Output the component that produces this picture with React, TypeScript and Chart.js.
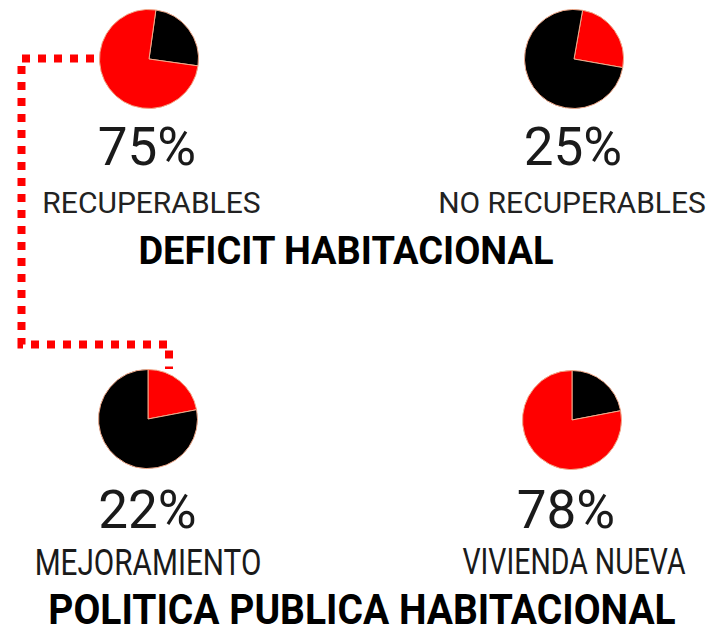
import React, { useEffect, useRef } from "react";
import { Chart, registerables } from "chart.js";

Chart.register(...registerables);

// ---- data ----
const topLabels = ["RECUPERABLES", "NO RECUPERABLES"];
const topValues = [75, 25];
const bottomLabels = ["MEJORAMIENTO", "VIVIENDA NUEVA"];
const bottomValues = [22, 78];
const sectionTitles = ["DEFICIT HABITACIONAL", "POLITICA PUBLICA HABITACIONAL"];

const RED = "#ff0000";
const BLACK = "#000000";
const EDGE = "#f0a98a";

type PieSpec = {
  value: number;
  highlightFirst: boolean;
  rotation: number;
  cx: number;
  cy: number;
};

const pies: PieSpec[] = [
  { value: topValues[0], highlightFirst: false, rotation: 8, cx: 148.5, cy: 58.5 },
  { value: topValues[1], highlightFirst: true, rotation: 10, cx: 573.5, cy: 59 },
  { value: bottomValues[0], highlightFirst: true, rotation: 0, cx: 147.5, cy: 418.5 },
  { value: bottomValues[1], highlightFirst: false, rotation: 0, cx: 571.5, cy: 420 },
];

const SIZE = 100;

function Pie({ spec }: { spec: PieSpec }) {
  const ref = useRef<HTMLCanvasElement | null>(null);
  useEffect(() => {
    if (!ref.current) return;
    const rest = 100 - spec.value;
    const data = spec.highlightFirst ? [spec.value, rest] : [rest, spec.value];
    const colors = spec.highlightFirst ? [RED, BLACK] : [BLACK, RED];
    const chart = new Chart(ref.current, {
      type: "pie",
      data: {
        labels: ["a", "b"],
        datasets: [
          {
            data,
            backgroundColor: colors,
            borderColor: EDGE,
            borderWidth: 1,
          },
        ],
      },
      options: {
        responsive: false,
        animation: false,
        rotation: spec.rotation,
        layout: { padding: 0 },
        plugins: { legend: { display: false }, tooltip: { enabled: false } },
        events: [],
      },
    });
    return () => chart.destroy();
  }, [spec]);
  return (
    <canvas
      ref={ref}
      width={SIZE}
      height={SIZE}
      style={{
        position: "absolute",
        left: spec.cx - SIZE / 2,
        top: spec.cy - SIZE / 2,
        width: SIZE,
        height: SIZE,
      }}
    />
  );
}

function Txt({
  text,
  cx,
  baseline,
  size,
  weight = 400,
  color = "#1a1a1a",
  sx = 1,
  sy = 1,
}: {
  text: string;
  cx: number;
  baseline: number;
  size: number;
  weight?: number;
  color?: string;
  sx?: number;
  sy?: number;
}) {
  // line-height 0.8em: baseline sits at 0.742em from the top of the box
  const lh = 0.8 * size;
  const top = baseline - 0.742 * size;
  return (
    <div
      style={{
        position: "absolute",
        left: cx - 400,
        width: 800,
        top,
        height: lh,
        lineHeight: `${lh}px`,
        fontSize: size,
        fontFamily: "Roboto, 'Noto Sans', sans-serif",
        fontWeight: weight,
        color,
        textAlign: "center",
        whiteSpace: "nowrap",
        transform: `scale(${sx}, ${sy})`,
        transformOrigin: "50% 92.75%",
      }}
    >
      {text}
    </div>
  );
}

export default function App() {
  return (
    <div
      style={{
        position: "absolute",
        left: 0,
        top: 0,
        width: 724,
        height: 629,
        background: "#ffffff",
        overflow: "hidden",
      }}
    >
      <svg
        width={724}
        height={629}
        style={{ position: "absolute", left: 0, top: 0 }}
      >
        <path
          d="M 94 58.5 H 21.5 V 344.5 H 169 V 369"
          fill="none"
          stroke={RED}
          strokeWidth={8}
          strokeDasharray="8 8"
        />
      </svg>
      {pies.map((p, i) => (
        <Pie key={i} spec={p} />
      ))}

      <Txt text={`${topValues[0]}%`} cx={147} baseline={165} size={53} />
      <Txt text={`${topValues[1]}%`} cx={573} baseline={165} size={53} />
      <Txt text={topLabels[0]} cx={151.5} baseline={213} size={30} color="#222" />
      <Txt text={topLabels[1]} cx={572} baseline={213} size={30} color="#222" />
      <Txt text={sectionTitles[0]} cx={346} baseline={264} size={38} weight={700} color="#000" />

      <Txt text={`${bottomValues[0]}%`} cx={147.5} baseline={528} size={53} />
      <Txt text={`${bottomValues[1]}%`} cx={566} baseline={528} size={53} />
      <Txt text={bottomLabels[0]} cx={147.5} baseline={575} size={30} color="#1a1a1a" sx={0.99} sy={1.25} />
      <Txt text={bottomLabels[1]} cx={574} baseline={575} size={28.5} color="#1a1a1a" sy={1.3} />
      <Txt text={sectionTitles[1]} cx={362} baseline={625} size={39} weight={700} color="#000" sy={1.08} />
    </div>
  );
}
